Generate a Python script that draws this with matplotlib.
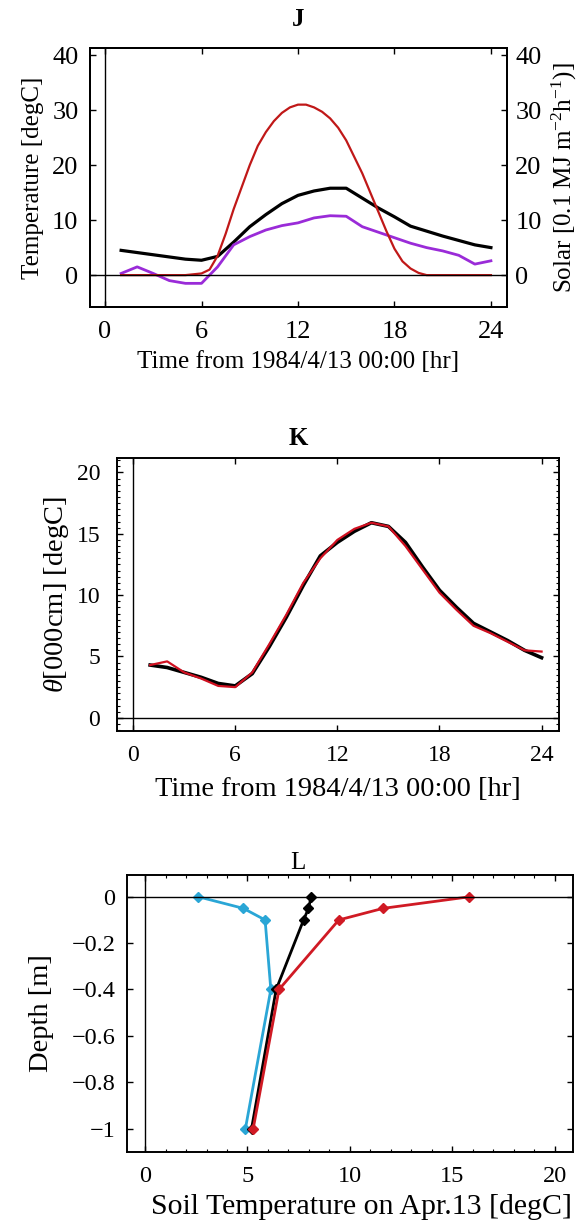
import matplotlib
matplotlib.use("Agg")
import matplotlib.pyplot as plt
from matplotlib.ticker import MultipleLocator, FuncFormatter
import numpy as np

plt.rcParams['font.family'] = ['Liberation Serif', 'DejaVu Serif']
plt.rcParams['mathtext.fontset'] = 'custom'
plt.rcParams['mathtext.rm'] = 'Liberation Serif'
plt.rcParams['mathtext.it'] = 'Liberation Serif:italic'

# --- panel J: air / dew-point temperature and solar radiation ---
hours = [1, 2, 3, 4, 5, 6, 7, 8, 9, 10, 11, 12, 13, 14, 15, 16, 17, 18, 19, 20, 21, 22, 23, 24]
air_temp = [4.5, 4.1, 3.7, 3.3, 2.9, 2.7, 3.4, 6.0, 8.8, 11.0, 13.0, 14.5, 15.3, 15.8, 15.8, 14.0, 12.2,
            10.6, 8.9, 8.0, 7.1, 6.3, 5.5, 5.0]
dew_temp = [0.3, 1.5, 0.3, -1.0, -1.5, -1.5, 1.5, 5.5, 7.0, 8.2, 9.0, 9.5, 10.4, 10.8, 10.7, 8.8, 7.8,
            6.8, 5.8, 5.0, 4.4, 3.6, 2.0, 2.6]
solar_hours = [1, 2, 3, 4, 5, 6, 6.5, 7, 7.5, 8, 8.5, 9, 9.5, 10, 10.5, 11, 11.5, 12, 12.5, 13, 13.5, 14,
               14.5, 15, 15.5, 16, 16.5, 17, 17.5, 18, 18.5, 19, 19.5, 20, 21, 22, 23, 24]
solar = [0, 0, 0, 0, 0, 0.3, 1.0, 3.5, 7.5, 12, 16, 20, 23.5, 26, 28, 29.5, 30.5, 31, 31, 30.5, 29.7, 28.5,
         26.8, 24.5, 21.5, 18.5, 15, 11.5, 8, 4.8, 2.5, 1.2, 0.4, 0, 0, 0, 0, 0]

# --- panel K: surface soil temperature, observed vs model ---
theta_obs = [4.3, 4.1, 3.7, 3.3, 2.8, 2.6, 3.6, 5.8, 8.2, 10.8, 13.2, 14.3, 15.2, 15.9, 15.6, 14.3, 12.3,
             10.4, 9.0, 7.7, 7.0, 6.3, 5.5, 4.9]
theta_sim = [4.3, 4.6, 3.7, 3.2, 2.6, 2.5, 3.7, 6.0, 8.4, 11.0, 13.0, 14.5, 15.4, 15.9, 15.6, 14.0, 12.1,
             10.2, 8.8, 7.5, 6.9, 6.2, 5.5, 5.4]

# --- panel L: soil temperature profiles ---
depth = [0, -0.05, -0.1, -0.4, -1.0]
prof_cyan = [2.6, 4.8, 5.86, 6.14, 4.9]
prof_black = [8.11, 7.98, 7.74, 6.4, 5.2]
prof_red = [15.84, 11.62, 9.46, 6.54, 5.28]

W, H = 585, 1224
fig = plt.figure(figsize=(W / 100, H / 100), dpi=100)


def ax_rect(l, t, r, b):
    return [l / W, 1 - b / H, (r - l) / W, (b - t) / H]


def style(ax, tfs):
    for s in ax.spines.values():
        s.set_linewidth(1.4)
    ax.tick_params(direction='in', length=4, width=1, labelsize=tfs, top=True, right=True)
    ax.tick_params(axis='y', pad=10)
    ax.tick_params(axis='x', pad=10)
    ax.tick_params(which='minor', direction='in', length=2, width=0.8, top=True, right=True)


# J
axJ = fig.add_axes(ax_rect(89.6, 48, 507, 307))
axJ.plot(hours, air_temp, color='black', lw=2.3)
axJ.plot(hours, dew_temp, color='#9a2bd8', lw=2.0)
axJ.plot(solar_hours, solar, color='#c01818', lw=1.6)
axJ.axhline(0, color='black', lw=1)
axJ.axvline(0, color='black', lw=1)
axJ.set_xlim(-0.96, 25)
axJ.set_ylim(-5.8, 41.3)
axJ.set_xticks([0, 6, 12, 18, 24])
axJ.set_yticks([0, 10, 20, 30, 40])
style(axJ, 19)
axJ.tick_params(right=False)
axJ.tick_params(axis='y', pad=8)
axJ.set_ylabel('Temperature [degC]', fontsize=18, labelpad=6)
axJ.set_xlabel('Time from 1984/4/13 00:00 [hr]', fontsize=18, labelpad=6)
axJr = axJ.twinx()
axJr.set_ylim(-5.8, 41.3)
axJr.set_yticks([0, 10, 20, 30, 40])
axJr.tick_params(direction='in', length=4, width=1, labelsize=19, pad=6)
axJr.set_ylabel('Solar [0.1 MJ m$^{-2}$h$^{-1}$)]', fontsize=18, labelpad=6)
for s in axJr.spines.values():
    s.set_linewidth(1.4)
fig.text(298 / W, 1 - 19 / H, 'J', ha='center', va='center', fontsize=18, fontweight='bold')

# K
axK = fig.add_axes(ax_rect(116.8, 457.7, 558.6, 730.7))
axK.plot(hours, theta_obs, color='black', lw=2.6)
axK.plot(hours, theta_sim, color='#d01020', lw=1.6)
axK.axhline(0, color='black', lw=1)
axK.axvline(0, color='black', lw=1)
axK.set_xlim(-0.96, 25)
axK.set_ylim(-1.05, 21.2)
axK.set_xticks([0, 6, 12, 18, 24])
axK.set_yticks([0, 5, 10, 15, 20])
axK.yaxis.set_minor_locator(MultipleLocator(0.5))
style(axK, 17)
axK.tick_params(axis='y', pad=12)
axK.set_ylabel(r'$\mathit{\theta}$[000cm] [degC]', fontsize=20.5, labelpad=4)
axK.set_xlabel('Time from 1984/4/13 00:00 [hr]', fontsize=20.5, labelpad=8)
fig.text(298 / W, 1 - 438 / H, 'K', ha='center', va='center', fontsize=18, fontweight='bold')

# L
axL = fig.add_axes(ax_rect(126.7, 875, 573, 1151.7))
axL.plot(prof_cyan, depth, color='#2aa6d6', lw=2.0, marker='D', ms=5)
axL.plot(prof_black, depth, color='black', lw=2.0, marker='D', ms=5)
axL.plot(prof_red, depth, color='#d01a24', lw=2.0, marker='D', ms=5)
axL.axhline(0, color='black', lw=1)
axL.axvline(0, color='black', lw=1)
axL.set_xlim(-0.9, 20.9)
axL.set_ylim(-1.1, 0.094)
axL.set_xticks([0, 5, 10, 15, 20])
axL.set_yticks([0, -0.2, -0.4, -0.6, -0.8, -1.0])
axL.xaxis.set_minor_locator(MultipleLocator(1))
axL.yaxis.set_major_formatter(FuncFormatter(
    lambda v, p: '0' if abs(v) < 1e-9 else ('\u22121' if abs(v + 1) < 1e-9 else ('%.1f' % v).replace('-', '\u2212'))))
style(axL, 17.5)
axL.tick_params(axis='y', pad=8)
axL.set_ylabel('Depth [m]', fontsize=20.5, labelpad=13)
axL.set_xlabel('Soil Temperature on Apr.13 [degC]', fontsize=21.5, labelpad=5)
axL.xaxis.label.set_x(0.525)
fig.text(298 / W, 1 - 863 / H, 'L', ha='center', va='center', fontsize=18)

fig.savefig('out.png', dpi=100)
